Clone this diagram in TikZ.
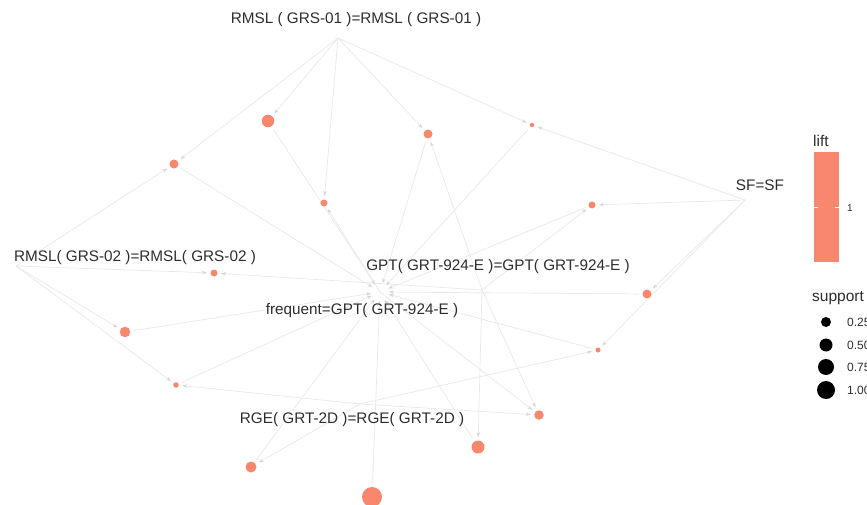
\documentclass[tikz,border=0pt]{standalone}
\usepackage{fontspec}
\setmainfont{Liberation Sans}
\usetikzlibrary{arrows.meta}

\definecolor{rulefill}{RGB}{248,135,110}
\definecolor{edgegray}{RGB}{232,232,232}
\definecolor{tipgray}{RGB}{214,214,214}
\definecolor{labelgray}{RGB}{45,45,45}

\pgfdeclarelayer{edges}
\pgfsetlayers{edges,main}

\begin{document}
\begin{tikzpicture}[x=1pt,y=-1pt,
  item/.style={text=labelgray,font=\fontsize{15.3}{17}\selectfont,inner sep=0pt},
  rulenode/.style={circle,fill=rulefill,inner sep=0pt,minimum size=#1,outer sep=3.5pt},
  link/.style={draw=edgegray,line width=0.7pt,
    -{Stealth[length=5pt,width=3.5pt,color=tipgray]}},
  tofreq/.style={link,shorten >=9pt},
  legend/.style={text=labelgray,font=\fontsize{15.5}{17}\selectfont,inner sep=0pt,anchor=west}]

\useasboundingbox (0,0) rectangle (867,505);

% item vertices, labels sit next to them
\coordinate (rmslA) at (338,38);
\coordinate (rmslB) at (16,266);
\coordinate (sf) at (745,200);
\coordinate (gpt) at (482,290);
\coordinate (freq) at (380,292);
\coordinate (rge) at (360,404);

\node[item] (rmslA-text) at (356,20) {RMSL ( GRS-01 )=RMSL ( GRS-01 )};
\node[item] (rmslB-text) at (135,258) {RMSL( GRS-02 )=RMSL( GRS-02 )};
\node[item] (sf-text) at (760,185) {SF=SF};
\node[item] (gpt-text) at (498,267) {GPT( GRT-924-E )=GPT( GRT-924-E )};
\node[item] (freq-text) at (362,311) {frequent=GPT( GRT-924-E )};
\node[item] (rge-text) at (352,420) {RGE( GRT-2D )=RGE( GRT-2D )};

% rules, size ~ support
\node[rulenode=12.5pt] (r1) at (268,121) {};
\node[rulenode=9pt] (r2) at (174,164) {};
\node[rulenode=9pt] (r3) at (428,134) {};
\node[rulenode=4.5pt] (r4) at (532,125) {};
\node[rulenode=7pt] (r5) at (324,203) {};
\node[rulenode=7pt] (r6) at (592,205) {};
\node[rulenode=7pt] (r7) at (214,273) {};
\node[rulenode=9pt] (r8) at (647,294) {};
\node[rulenode=10.5pt] (r9) at (125,332) {};
\node[rulenode=5pt] (r10) at (598,350) {};
\node[rulenode=5.5pt] (r11) at (176,385) {};
\node[rulenode=9.5pt] (r12) at (539,415) {};
\node[rulenode=13pt] (r13) at (478,447) {};
\node[rulenode=11pt] (r14) at (251,467) {};
\node[rulenode=20pt] (r15) at (372,497) {};

\begin{pgfonlayer}{edges}
\foreach \r in {r1,r2,r3,r4,r5} \draw[link] (rmslA) -- (\r);
\foreach \r in {r2,r7,r9,r11} \draw[link] (rmslB) -- (\r);
\foreach \r in {r4,r6,r8,r10} \draw[link] (sf) -- (\r);
\foreach \r in {r3,r6,r7,r12,r13} \draw[link] (gpt) -- (\r);
\foreach \r in {r10,r11,r12,r14} \draw[link] (rge) -- (\r);
\foreach \r in {r5,r12} \draw[link] (freq) -- (\r);
\foreach \r in {r1,r2,r3,r4,r6,r8,r9,r10,r11,r13,r14,r15}
  \draw[tofreq] (\r) -- (freq);
\end{pgfonlayer}

% legend: lift
\node[legend] (lift-title) at (813,141) {lift};
\node[fill=rulefill,inner sep=0pt,minimum width=25pt,minimum height=110pt,
  anchor=north west] (lift-bar) at (814,152) {};
\draw[white,line width=0.6pt] (814,207) -- (818,207) (835,207) -- (839,207);
\node[legend,font=\fontsize{10}{12}\selectfont] (lift-one) at (847,208) {1};

% legend: support
\node[legend] (support-title) at (812,298) {support};
\foreach \y/\d/\v [count=\i] in {322/10/0.25,345/13/0.50,367/16/0.75,390/18/1.00} {
  \node[circle,fill=black,inner sep=0pt,minimum size=\d pt] (dot\i) at (826,\y) {};
  \node[legend,font=\fontsize{12}{14}\selectfont] (val\i) at (847,\y) {\v};
}
\end{tikzpicture}
\end{document}
